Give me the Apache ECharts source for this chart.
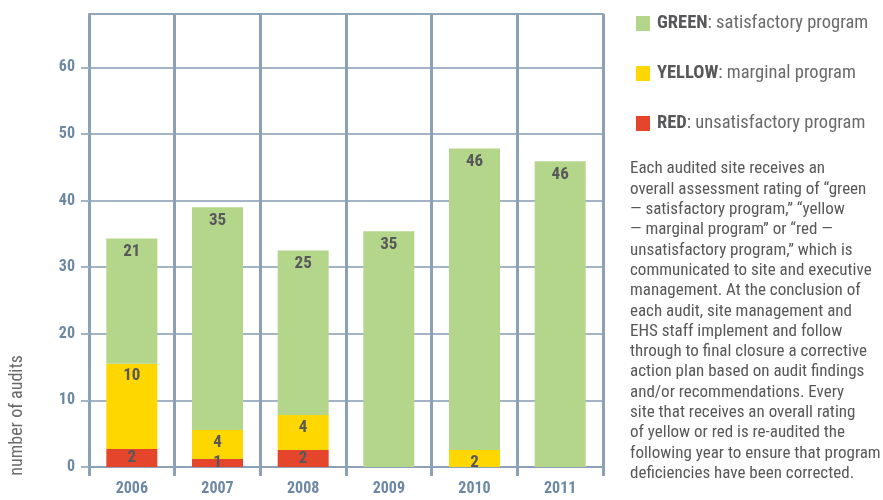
<!DOCTYPE html>
<html>
<head>
<meta charset="utf-8">
<script src="https://cdn.jsdelivr.net/npm/echarts@6/dist/echarts.min.js"></script>
<style>
  html, body { margin: 0; padding: 0; background: #fff; }
  #main { width: 883px; height: 500px; }
</style>
</head>
<body>
<div id="main"></div>
<script>
// years on the x axis
var years = ['2006', '2007', '2008', '2009', '2010', '2011'];

// segment heights as drawn (bottom to top: red, yellow, green)
var redValues = [2.7, 1.2, 2.55, null, null, null];
var yellowValues = [12.8, 4.35, 5.25, null, 2.55, null];
var greenValues = [18.8, 33.45, 24.7, 35.4, 45.25, 45.9];

// numbers printed on the segments
var redLabels = ['2', '1', '2', '', '', ''];
var yellowLabels = ['10', '4', '4', '', '2', ''];
var greenLabels = ['21', '35', '25', '35', '46', '46'];

var yTicks = [0, 10, 20, 30, 40, 50, 60];

var legendNames = ['GREEN', 'YELLOW', 'RED'];
var legendNotes = ['satisfactory program', 'marginal program', 'unsatisfactory program'];

var noteLines = [
  'Each audited site receives an',
  'overall assessment rating of \u201cgreen',
  '\u2014 satisfactory program,\u201d \u201cyellow',
  '\u2014 marginal program\u201d or \u201cred \u2014',
  'unsatisfactory program,\u201d which is',
  'communicated to site and executive',
  'management. At the conclusion of',
  'each audit, site management and',
  'EHS staff implement and follow',
  'through to final closure a corrective',
  'action plan based on audit findings',
  'and/or recommendations. Every',
  'site that receives an overall rating',
  'of yellow or red is re-audited the',
  'following year to ensure that program',
  'deficiencies have been corrected.'
];

var NARROW = '"Liberation Sans Narrow", "Roboto Condensed", sans-serif';
var gridBlue = '#8ca1b7';
var tickBlue = '#6c88a5';

var chart = echarts.init(document.getElementById('main'), null, { renderer: 'canvas' });

function segLabel(arr, pos, dist) {
  return {
    show: true,
    position: pos,
    distance: dist,
    color: '#58585a',
    fontFamily: NARROW,
    fontWeight: 'bold',
    fontSize: 17,
    formatter: function (p) { return arr[p.dataIndex]; }
  };
}

var option = {
  animation: false,
  backgroundColor: '#ffffff',
  grid: { left: 89, right: 280, top: 14, bottom: 33, containLabel: false },
  legend: {
    data: legendNames,
    orient: 'vertical',
    left: 631,
    top: 9,
    icon: 'rect',
    itemWidth: 14,
    itemHeight: 15,
    itemGap: 31,
    selectedMode: false,
    formatter: function (name) {
      return '{b|' + name + '}: ' + legendNotes[legendNames.indexOf(name)];
    },
    textStyle: {
      color: '#6a6a6c',
      fontFamily: NARROW,
      fontSize: 18.5,
      padding: [0, 0, 0, 2],
      rich: {
        b: { fontWeight: 'bold', color: '#58585a', fontFamily: NARROW, fontSize: 18.5 }
      }
    }
  },
  xAxis: [{
    type: 'category',
    data: years,
    axisLine: { lineStyle: { color: gridBlue, width: 2 } },
    axisTick: { show: true, length: 9, lineStyle: { color: gridBlue, width: 3 } },
    splitLine: { show: true, interval: 0, lineStyle: { color: gridBlue, width: 3 } },
    axisLabel: {
      color: tickBlue, fontFamily: NARROW, fontWeight: 'bold', fontSize: 16, margin: 14
    }
  }, {
    type: 'category',
    data: years,
    position: 'top',
    axisLine: { lineStyle: { color: '#8fa3b9', width: 2, type: 'dotted' } },
    axisTick: { show: false },
    axisLabel: { show: false }
  }],
  yAxis: {
    type: 'value',
    min: 0,
    max: 68,
    interval: 10,
    axisLine: { show: false },
    axisTick: { show: true, length: 8, lineStyle: { color: '#a3b4c6', width: 2 } },
    splitLine: { show: true, lineStyle: { color: '#a3b4c6', width: 2 } },
    axisLabel: {
      color: tickBlue, fontFamily: NARROW, fontWeight: 'bold', fontSize: 16, margin: 14,
      showMaxLabel: false,
      formatter: function (v) { return yTicks.indexOf(v) >= 0 ? String(v) : ''; }
    }
  },
  graphic: [{
    type: 'text',
    left: 8,
    top: 355,
    rotation: Math.PI / 2,
    style: {
      text: 'number of audits',
      fill: '#6a6a6c',
      font: '18px ' + NARROW
    }
  }, {
    type: 'text',
    left: 630,
    top: 159,
    style: {
      text: noteLines.join('\n'),
      fill: '#58585a',
      font: '17px ' + NARROW,
      lineHeight: 20.3
    }
  }],
  series: [{
    name: 'RED',
    type: 'bar',
    stack: 'audits',
    barWidth: 51,
    itemStyle: { color: '#e5452a' },
    label: segLabel(redLabels, 'inside', 0),
    data: redValues
  }, {
    name: 'YELLOW',
    type: 'bar',
    stack: 'audits',
    barWidth: 51,
    itemStyle: { color: '#ffd700' },
    label: segLabel(yellowLabels, 'insideTop', 4),
    data: yellowValues
  }, {
    name: 'GREEN',
    type: 'bar',
    stack: 'audits',
    barWidth: 51,
    itemStyle: { color: '#b3d68b' },
    label: segLabel(greenLabels, 'insideTop', 5),
    data: greenValues
  }]
};

chart.setOption(option);
</script>
</body>
</html>
